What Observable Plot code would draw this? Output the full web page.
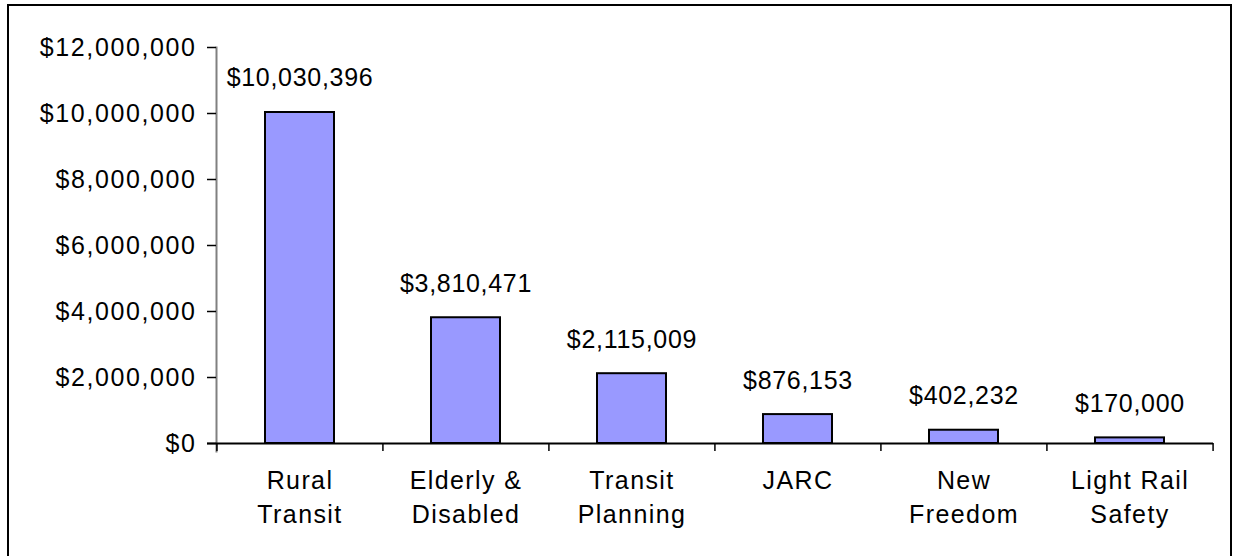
<!DOCTYPE html>
<html>
<head>
<meta charset="utf-8">
<script src="https://cdn.jsdelivr.net/npm/d3@7"></script>
<script src="https://cdn.jsdelivr.net/npm/@observablehq/plot@0.6"></script>
<style>
  html, body { margin: 0; padding: 0; background: #fff; overflow: hidden; }
  #wrap { position: relative; width: 1233px; height: 556px; overflow: hidden; }
  #box { position: absolute; left: 7px; top: 4px; width: 1225px; height: 600px; border: 2px solid #000; box-sizing: border-box; pointer-events: none; }
  #chart { position: absolute; left: 0; top: 0; }
  svg text { font-family: "Liberation Sans", Arial, sans-serif; }
</style>
</head>
<body>
<div id="wrap"><div id="chart"></div><div id="box"></div></div>
<script>
const categories = ["Rural Transit", "Elderly & Disabled", "Transit Planning", "JARC", "New Freedom", "Light Rail Safety"];
const categoryLabels = ["Rural\nTransit", "Elderly &\nDisabled", "Transit\nPlanning", "JARC", "New\nFreedom", "Light Rail\nSafety"];
const values = [10030396, 3810471, 2115009, 876153, 402232, 170000];
const yTicks = [0, 2000000, 4000000, 6000000, 8000000, 10000000, 12000000];

const data = categories.map((c, i) => ({category: c, label: categoryLabels[i], value: values[i]}));
const money = d => "$" + d3.format(",")(d);

const W = 1233, H = 556;
const mL = 216, mR = 20, mT = 47, mB = 113;
const step = (W - mL - mR) / categories.length;

const plot = Plot.plot({
  width: W,
  height: H,
  marginLeft: mL,
  marginRight: mR,
  marginTop: mT,
  marginBottom: mB,
  style: {fontFamily: "Liberation Sans, Arial, sans-serif", background: "transparent", overflow: "visible"},
  x: {domain: categories, paddingInner: 0.585, paddingOuter: 0.2925, axis: null, label: null},
  y: {domain: [0, 12000000], axis: null, label: null},
  marks: [
    Plot.frame({anchor: "left", stroke: "#808080", strokeWidth: 2, insetBottom: -8}),
    Plot.axisY({ticks: yTicks, tickFormat: money, tickSize: 9, tickPadding: 11, fontSize: 25, stroke: "#000", strokeWidth: 1.5, color: "#000", label: null}),
    Plot.barY(data, {x: "category", y: "value", fill: "#9999FF", stroke: "#000", strokeWidth: 2}),
    Plot.ruleY([0], {stroke: "#000", strokeWidth: 2, insetLeft: -9}),
    Plot.axisX(categories, {tickSize: 8, dx: -step / 2, tickFormat: () => "", stroke: "#000", strokeWidth: 1.5, label: null}),
    Plot.axisX([categories[categories.length - 1]], {tickSize: 8, dx: step / 2, tickFormat: () => "", stroke: "#000", strokeWidth: 1.5, label: null}),
    Plot.text(data, {x: "category", y: "value", text: d => money(d.value), dy: -34, lineAnchor: "middle", fontSize: 25, fill: "#000"}),
    Plot.text(data, {x: "category", y: () => 0, text: "label", dy: 21, lineAnchor: "top", lineHeight: 1.38, fontSize: 25, fill: "#000"})
  ]
});

document.getElementById("chart").appendChild(plot);

// letter spacing to mimic the wide rendering of the original
plot.querySelectorAll('g[aria-label="y-axis tick label"] text').forEach(t => t.setAttribute("letter-spacing", "1.6"));
const textGroups = plot.querySelectorAll('g[aria-label="text"]');
if (textGroups[0]) textGroups[0].setAttribute("letter-spacing", "0.7");
if (textGroups[1]) textGroups[1].setAttribute("letter-spacing", "1.4");
</script>
</body>
</html>
